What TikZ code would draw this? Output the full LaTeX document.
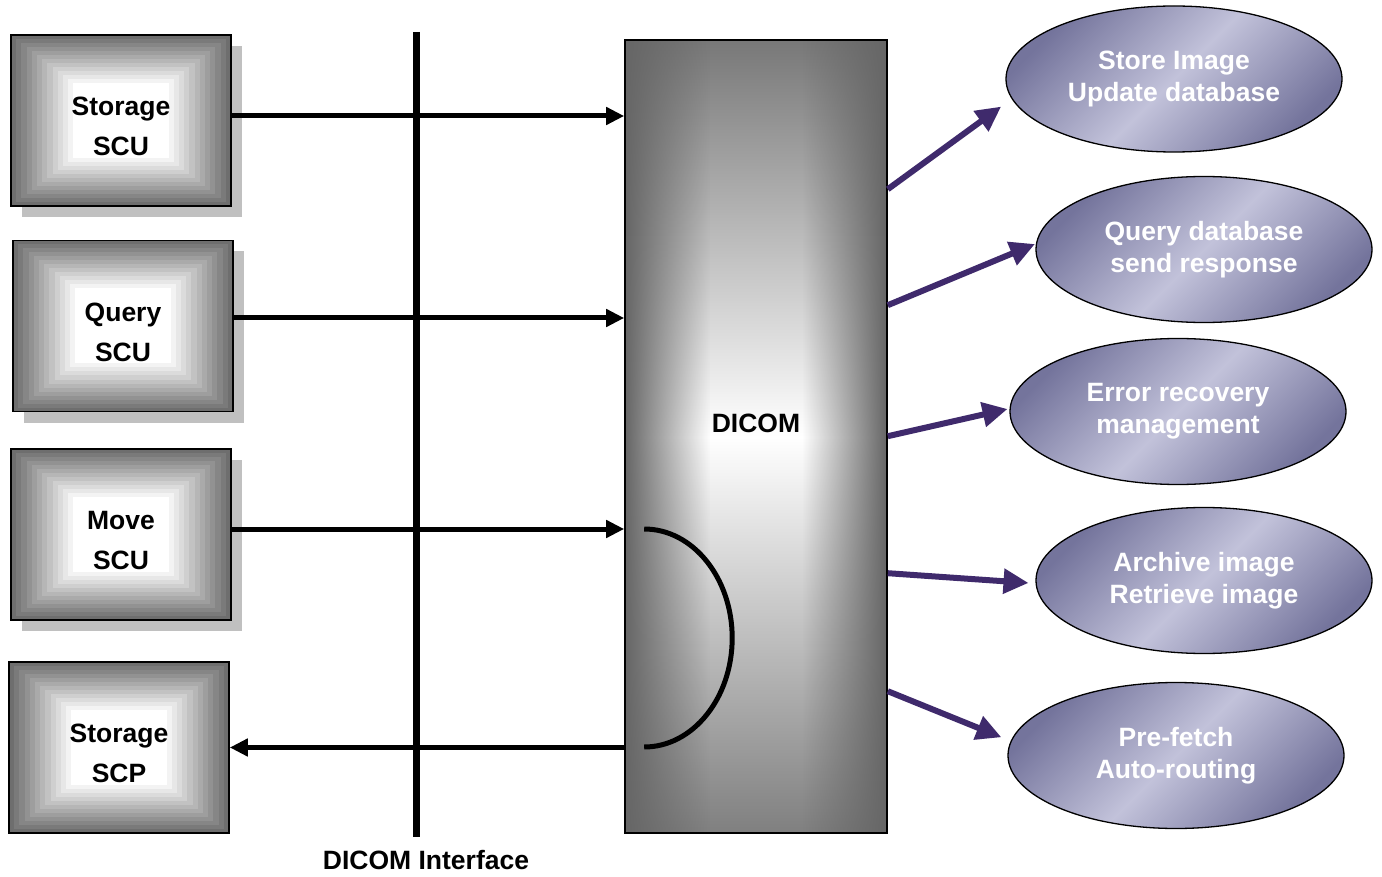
\documentclass[tikz,border=0pt]{standalone}
\usepackage{fontspec}
\setmainfont{Liberation Sans}
\usetikzlibrary{arrows.meta, positioning, shapes.geometric, shadows, calc, fadings}
\definecolor{shadowgrey}{HTML}{C0C0C0}
\definecolor{lavdark}{HTML}{74749C}
\definecolor{lavlight}{HTML}{C2C2DA}
\definecolor{flowpurple}{HTML}{3F2A6C}
\tikzset{
  bigbold/.style={font=\fontsize{26.5}{40}\selectfont\bfseries},
  scu/.style={draw, line width=1.6pt, minimum width=220pt, minimum height=171pt, inner sep=0pt,
    path picture={\foreach \i in {0,...,12}{
      \pgfmathsetmacro\k{57-57*\i/12}
      \fill[black!\k] ([shift={(\i*5.2pt,-\i*4pt)}]path picture bounding box.north west)
        rectangle ([shift={(-\i*5.2pt,\i*4pt)}]path picture bounding box.south east);}}},
  caption/.style={label={[bigbold, align=center, yshift=-6pt]center:#1}},
  shadowed/.style={drop shadow={shadow xshift=11pt, shadow yshift=-11pt, fill=shadowgrey, opacity=1}},
  task/.style={ellipse, draw, line width=1.3pt, minimum width=336pt, minimum height=146pt, inner sep=0pt, align=center,
    top color=lavdark, bottom color=lavdark, middle color=lavlight, shading angle=45,
    text=white, font=\fontsize{26.5}{32}\selectfont\bfseries},
  bus/.style={line width=5pt, -{Triangle[length=18pt,width=17pt]}},
  flowarrow/.style={draw=flowpurple, line width=6pt, -{Triangle[length=25pt,width=24pt]}}
}

\begin{document}
\begin{tikzpicture}[x=1pt,y=-1pt]
  \path[use as bounding box, fill=white] (0,0) rectangle (1382,877);

  % service class users / provider
  \node[scu, shadowed, caption={Storage\\SCU}] (stscu) at (121,120.5) {};
  \node[scu, shadowed, caption={Query\\SCU}] (qscu) at (123,326) {};
  \node[scu, shadowed, caption={Move\\SCU}] (mscu) at (121,534.5) {};
  \node[scu, caption={Storage\\SCP}] (stscp) at (119,747.5) {};

  % DICOM server block
  \node[draw, line width=1.6pt, minimum width=262pt, minimum height=793pt, inner sep=0pt,
    path picture={
      \shade[top color=black!53, bottom color=black!50, middle color=white]
        (path picture bounding box.north west) rectangle (path picture bounding box.south east);
      \fill[black!60, path fading=east] (path picture bounding box.north west)
        rectangle ([xshift=85pt]path picture bounding box.south west);
      \fill[black!60, path fading=west] ([xshift=-85pt]path picture bounding box.north east)
        rectangle (path picture bounding box.south east);}]
    (dicom) at (756,436.5) {};
  \node[font=\fontsize{26.5}{32}\selectfont\bfseries] (dicomlbl) at (756,423) {DICOM};

  % interface bar
  \coordinate (ifctop) at (416,32);
  \coordinate (ifcbot) at (416,837);
  \draw[line width=7pt] (ifctop) -- (ifcbot);
  \node[font=\fontsize{26.5}{32}\selectfont\bfseries, inner sep=0pt, below=13pt of ifcbot, xshift=10pt] (ifclbl) {DICOM Interface};

  % requests in, C-STORE back out
  \coordinate (a1) at ([yshift=4.5pt]stscu.east);
  \coordinate (a2) at ([yshift=8pt]qscu.east);
  \coordinate (a3) at ([yshift=5.5pt]mscu.east);
  \draw[bus] (a1) -- (a1 -| dicom.west);
  \draw[bus] (a2) -- (a2 -| dicom.west);
  \draw[bus] (a3) -- (a3 -| dicom.west);
  \draw[bus] (stscp.east -| dicom.west) -- (stscp.east);
  \coordinate (loopin) at ($(a3 -| dicom.west)+(20pt,0)$);
  \draw[line width=5pt] (loopin) arc[start angle=-90, end angle=90, x radius=88, y radius=109];

  % server tasks
  \node[task] (store) at (1174,79) {Store Image\\Update database};
  \node[task] (query) at (1204,249.5) {Query database\\send response};
  \node[task] (recov) at (1178,411.5) {Error recovery\\management};
  \node[task] (arch) at (1204,580.5) {Archive image\\Retrieve image};
  \node[task] (route) at (1176,755.5) {Pre-fetch\\Auto-routing};

  \draw[flowarrow, shorten >=13pt] ([yshift=-150pt]dicom.north east) -- (store.187.5);
  \draw[flowarrow, shorten >=1pt] ([yshift=-266pt]dicom.north east) -- (query.178.6);
  \draw[flowarrow, shorten >=2pt] ([yshift=-397pt]dicom.north east) -- (recov.179);
  \draw[flowarrow, shorten >=7pt] ([yshift=-534pt]dicom.north east) -- (arch.181.6);
  \draw[flowarrow, shorten >=10pt] ([yshift=-652pt]dicom.north east) -- (route.175.8);
\end{tikzpicture}
\end{document}
